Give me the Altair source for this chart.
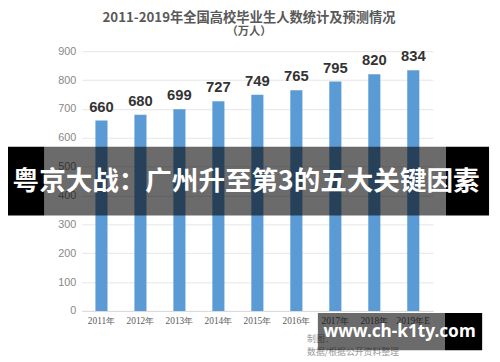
import altair as alt
import pandas as pd

years = ["2011年", "2012年", "2013年", "2014年", "2015年", "2016年", "2017年", "2018年", "2019年E"]
values = [660, 680, 699, 727, 749, 765, 795, 820, 834]
y_ticks = [0, 100, 200, 300, 400, 500, 600, 700, 800, 900]

title_text = "2011-2019年全国高校毕业生人数统计及预测情况"
subtitle_text = "（万人）"
banner_text = "粤京大战：广州升至第3的五大关键因素"
watermark_text = "www.ch-k1ty.com"
source_lines = ["制图：", "数据/根据公开资料整理"]

df = pd.DataFrame({"year": years, "value": values})

W, H = 357, 264
LEFT, TOP = 75, 41

x = alt.X("year:N", sort=years, title=None,
          scale=alt.Scale(paddingInner=0.69, paddingOuter=0.35),
          axis=alt.Axis(labelAngle=0, labelFontSize=9.5, labelColor="#5a5a5a",
                        labelFont="Liberation Sans Narrow", ticks=False,
                        domainColor="#d9d9d9", labelPadding=5, zindex=0))
y = alt.Y("value:Q", title=None,
          scale=alt.Scale(domain=[0, 900], nice=False),
          axis=alt.Axis(values=y_ticks, labelFontSize=11, labelColor="#888888",
                        labelFont="Liberation Sans", ticks=False, domain=False,
                        gridColor="#e6e6e6", labelPadding=6, zindex=0))

bars = alt.Chart(df).mark_bar(color="#5b9bd5").encode(x=x, y=y)
labels = alt.Chart(df).mark_text(
    dy=-14, fontSize=15, fontWeight="bold", color="#333333",
    font="Liberation Sans").encode(x=x, y=y, text="value:Q")

def txt(t, xv, yv, **kw):
    return alt.Chart(pd.DataFrame({"t": [t]})).mark_text(**kw).encode(
        x=alt.value(xv), y=alt.value(yv), text="t:N")

def rect(x1, x2, y1, y2, color, opacity=1.0):
    return alt.Chart(pd.DataFrame({"a": [0]})).mark_rect(
        color=color, opacity=opacity).encode(
        x=alt.value(x1), x2=alt.value(x2), y=alt.value(y1), y2=alt.value(y2))

ox, oy = 83, 49  # page coords of plot origin

title = txt(title_text, 253 - ox, 15 - oy, fontSize=13.5, fontWeight="bold",
            color="#595959", font="Noto Sans CJK SC")
subtitle = txt(subtitle_text, 253 - ox, 30 - oy, fontSize=11.5, fontWeight="bold",
               color="#595959", font="Noto Sans CJK SC")

src1 = txt(source_lines[0], 312 - ox, 342 - oy, fontSize=9, color="#999999",
           align="left", font="Noto Sans CJK SC")
src2 = txt(source_lines[1], 312 - ox, 355 - oy, fontSize=9, color="#999999",
           align="left", font="Noto Sans CJK SC")

banner_l = rect(3 - ox, 45 - ox, 146 - oy, 216 - oy, "#000000")
banner_m = rect(45 - ox, 453 - ox, 146 - oy, 216 - oy, "#000000", 0.58)
banner_r = rect(453 - ox, 497 - ox, 146 - oy, 216 - oy, "#000000")
banner_t = txt(banner_text, 250 - ox, 182 - oy, fontSize=27, fontWeight="bold",
               color="#ffffff", font="Noto Sans CJK SC", baseline="middle")

wm_m = rect(323 - ox, 452 - ox, 315 - oy, 353 - oy, "#000000", 0.58)
wm_r = rect(452 - ox, 490 - ox, 315 - oy, 353 - oy, "#000000")
wm_t = txt(watermark_text, 406 - ox, 335 - oy, fontSize=17.5, fontWeight="bold",
           color="#ffffff", font="Noto Sans", baseline="middle")

chart = alt.layer(
    bars, labels, title, subtitle, src1, src2,
    banner_l, banner_m, banner_r, banner_t, wm_m, wm_r, wm_t
).properties(
    width=W, height=H,
    autosize=alt.AutoSizeParams(type="none"),
    padding={"left": LEFT, "top": TOP, "right": 60, "bottom": 49},
    background="#ffffff",
).configure_view(stroke=None)

chart.save("out.html", embed_options={"renderer": "svg", "actions": False})
